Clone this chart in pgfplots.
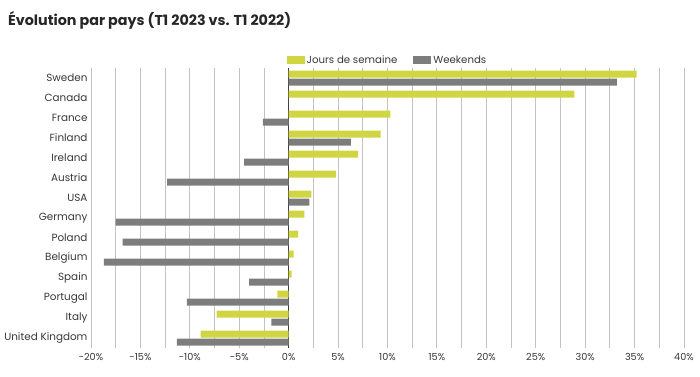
\documentclass[border=0pt]{standalone}
\usepackage{pgfplots}
\pgfplotsset{compat=1.18}
\usepackage{pgfplotstable}
\usepackage{fontspec}
\setmainfont{Poppins}
\definecolor{lime}{RGB}{208,214,66}
\definecolor{bargray}{RGB}{125,125,125}
\definecolor{gridgray}{RGB}{195,195,195}
\definecolor{txt}{RGB}{55,55,55}

% idx 13 = top (Sweden), 0 = bottom (United Kingdom)
\pgfplotstableread{
idx jours weekends
13 35.2 33.2
12 28.9 0
11 10.3 -2.6
10 9.3 6.3
9 7.0 -4.5
8 4.8 -12.3
7 2.3 2.1
6 1.6 -17.5
5 0.95 -16.8
4 0.5 -18.7
3 0.3 -4.0
2 -1.15 -10.3
1 -7.3 -1.75
0 -8.9 -11.3
}\data

\begin{document}
\begin{tikzpicture}
\path[use as bounding box] (0pt,0pt) rectangle (700pt,376pt);
\node[anchor=base west, inner sep=0pt, font=\bfseries\fontsize{14.3}{17}\selectfont, text=black!85] at (8pt,350.3pt) {Évolution par pays (T1 2023 vs. T1 2022)};
\begin{axis}[
 at={(91pt,28pt)}, anchor=south west, width=593pt, height=280pt, scale only axis,
 xbar, bar width=7pt,
 xmin=-20, xmax=40, ymin=-0.5, ymax=13.5,
 xtick={-20,-15,...,40}, minor xtick={-17.5,-12.5,...,37.5},
 xticklabel={\pgfmathprintnumber{\tick}\%},
 ytick={0,...,13},
 yticklabels={United Kingdom,Italy,Portugal,Spain,Belgium,Poland,Germany,USA,Austria,Ireland,Finland,France,Canada,Sweden},
 xmajorgrids, xminorgrids,
 major grid style={gridgray, line width=0.9pt},
 minor grid style={gridgray, line width=0.9pt},
 major tick length=0pt, minor tick length=0pt,
 axis line style={draw=none},
 tick label style={text=txt},
 yticklabel style={font=\fontsize{10.4}{12}\selectfont},
 xticklabel style={yshift=-2pt, font=\fontsize{9.7}{11}\selectfont},
 /pgf/number format/assume math mode=true,
 extra x ticks={0}, extra x tick labels={},
 extra x tick style={grid=major, major grid style={black!75, line width=1pt}},
 legend style={at={(0.5,1.0286)}, anchor=center, draw=none, fill=none, legend columns=2,
   font=\fontsize{10.2}{12}\selectfont, text=txt,
   /tikz/every even column/.append style={column sep=14pt}},
 legend image code/.code={\fill[#1] (0pt,-4pt) rectangle (18pt,4pt);},
]
\addplot[fill=lime, draw=none, bar shift=4pt] table[x=jours, y=idx] {\data};
\addplot[fill=bargray, draw=none, bar shift=-4pt] table[x=weekends, y=idx] {\data};
\legend{Jours de semaine, Weekends}
\end{axis}
\end{tikzpicture}
\end{document}
